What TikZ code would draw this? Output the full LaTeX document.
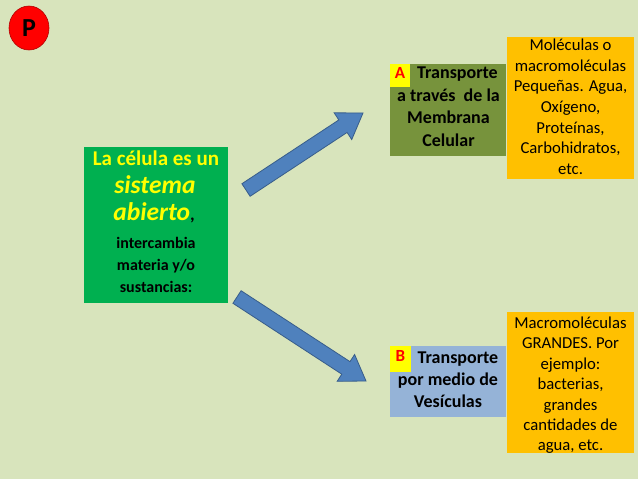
\documentclass[tikz,border=0pt]{standalone}
\usepackage{fontspec}
\setmainfont{Carlito}
\usetikzlibrary{calc,shapes.geometric}
\definecolor{bg}{HTML}{D8E4BC}
\definecolor{cellgreen}{HTML}{00B050}
\definecolor{olive}{HTML}{77933C}
\definecolor{lblue}{HTML}{95B3D7}
\definecolor{orangebox}{HTML}{FFC000}
\definecolor{arrowfill}{HTML}{4F81BD}
\definecolor{arrowline}{HTML}{385D8A}
\definecolor{yel}{HTML}{FFFF00}
\tikzset{
  box/.style={inner sep=0pt, outer sep=0pt},
  ln/.style={inner sep=0pt, text height=0.66em, text depth=0.16em, anchor=center},
  boldtxt/.style={ln, font=\fontsize{18}{21}\selectfont\bfseries},
  regtxt/.style={ln, font=\fontsize{16.7}{20}\selectfont},
  label/.style={ln, text=red, font=\fontsize{17}{20}\selectfont\bfseries},
  blockarrow/.style={fill=arrowfill, draw=arrowline, line width=0.8pt, line join=miter}
}
\newcommand\blkarrow[2]{%
  \coordinate (hb) at ($(#2)!24pt!(#1)$);
  \draw[blockarrow] ($(#1)!7.5pt!90:(#2)$) -- ($(hb)!7.5pt!-90:(#1)$) -- ($(hb)!16pt!-90:(#1)$) -- (#2)
     -- ($(hb)!16pt!90:(#1)$) -- ($(hb)!7.5pt!90:(#1)$) -- ($(#1)!7.5pt!-90:(#2)$) -- cycle;}
\begin{document}
\begin{tikzpicture}[x=1pt,y=-1pt]
\fill[bg] (0,0) rectangle (638,479);
\useasboundingbox (0,0) rectangle (638,479);

% P marker
\node[ellipse, fill=red, draw=red!70!black, line width=0.6pt, minimum width=40pt, minimum height=44pt, inner sep=0pt,
  font=\fontsize{26}{30}\selectfont\bfseries] (p) at (29,28) {P};

% main green box
\node[box, fill=cellgreen, minimum width=144pt, minimum height=156pt] (cell) at (156,225) {};
\node[ln, text=yel, font=\fontsize{21}{25}\selectfont\bfseries] (c1) at (156,163) {La célula es un};
\node[ln, text=yel, font=\fontsize{25.5}{30}\selectfont\bfseries\itshape] (c2) at (155,191) {sistema};
\node[ln, font=\fontsize{25.5}{30}\selectfont\bfseries] (c3) at (154,218) {\textcolor{yel}{\itshape abierto}{\fontsize{18}{21}\selectfont,}};
\foreach \t [count=\i] in {intercambia, materia y/o, sustancias:}
  \node[ln, font=\fontsize{16}{19}\selectfont\bfseries] (c\the\numexpr\i+3\relax) at (156,{246+(\i-1)*22}) {\t};

% box A
\node[box, fill=olive, minimum width=116pt, minimum height=92pt] (ba) at (448,110) {};
\node[box, fill=yel, minimum width=20pt, minimum height=23pt] (la) at (400,75.5) {};
\node[label] (lat) at (la) {A};
\node[boldtxt] (ta1) at (457.5,76) {Transporte};
\foreach \t [count=\i] in {a través\ \ de la, Membrana, Celular}
  \node[boldtxt] (ta\the\numexpr\i+1\relax) at (448.5,{99+(\i-1)*22.3}) {\t};

% orange A
\node[box, fill=orangebox, minimum width=127pt, minimum height=142pt] (oa) at (570.5,108) {};
\foreach \t [count=\i] in {Moléculas o, macromoléculas, {Pequeñas. Agua,}, {Oxígeno,}, {Proteínas,}, {Carbohidratos,}, etc.}
  \node[regtxt] (oa\i) at (570.5,{48+(\i-1)*20.67}) {\t};

% box B
\node[box, fill=lblue, minimum width=116pt, minimum height=71pt] (bb) at (448,381.5) {};
\node[box, fill=yel, minimum width=21pt, minimum height=26pt] (lb) at (400.5,359) {};
\node[label] (lbt) at (lb) {B};
\node[boldtxt] (tb1) at (458,361) {Transporte};
\foreach \t [count=\i] in {por medio de, Vesículas}
  \node[boldtxt] (tb\the\numexpr\i+1\relax) at (448,{383+(\i-1)*21.5}) {\t};

% orange B
\node[box, fill=orangebox, minimum width=127pt, minimum height=141pt] (ob) at (570.5,382.5) {};
\foreach \t [count=\i] in {Macromoléculas, GRANDES. Por, ejemplo:, {bacterias,}, grandes, cantidades de, {agua, etc.}}
  \node[regtxt] (ob\i) at (570.5,{326+(\i-1)*20.4}) {\t};

% arrows
\coordinate (a1t) at (246,190);
\coordinate (a1h) at (363,113);
\coordinate (a2t) at (237,297);
\coordinate (a2h) at (366,381);
\blkarrow{a1t}{a1h}
\blkarrow{a2t}{a2h}
\end{tikzpicture}
\end{document}
